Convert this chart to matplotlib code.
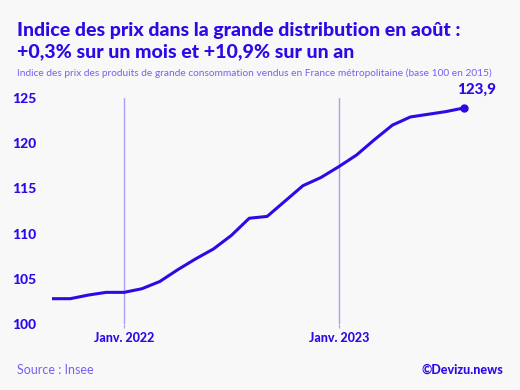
import matplotlib
matplotlib.use("Agg")
import matplotlib.pyplot as plt

plt.rcParams['font.family'] = ['Lato', 'DejaVu Sans']

# Indice des prix, sept. 2021 -> août 2023 (mensuel)
mois = ['sept. 2021', 'oct. 2021', 'nov. 2021', 'déc. 2021',
        'janv. 2022', 'févr. 2022', 'mars 2022', 'avr. 2022', 'mai 2022', 'juin 2022',
        'juil. 2022', 'août 2022', 'sept. 2022', 'oct. 2022', 'nov. 2022', 'déc. 2022',
        'janv. 2023', 'févr. 2023', 'mars 2023', 'avr. 2023', 'mai 2023', 'juin 2023',
        'juil. 2023', 'août 2023']
indice = [102.8, 102.8, 103.2, 103.5,
          103.5, 103.9, 104.7, 106.0, 107.2, 108.3,
          109.8, 111.7, 111.9, 113.6, 115.3, 116.2,
          117.4, 118.7, 120.4, 122.0, 122.9, 123.2,
          123.5, 123.9]
reperes = ['janv. 2022', 'janv. 2023']
reperes_labels = ['Janv. 2022', 'Janv. 2023']
yticks = [100, 105, 110, 115, 120, 125]

bleu = '#2a0be6'
clair = '#7361f3'
ligne_v = '#a99ff5'
fond = '#f8f8f8'
gras = 'black'

fig = plt.figure(figsize=(5.2, 3.9), dpi=100, facecolor=fond)
ax = fig.add_axes([52.4 / 520, 1 - 324 / 390, (464 - 52.4) / 520, (324 - 98) / 390])
ax.set_facecolor(fond)

x = list(range(len(mois)))
ax.plot(x, indice, color=bleu, lw=2.2, solid_joinstyle='round', zorder=3)
ax.plot(x[-1], indice[-1], 'o', color=bleu, ms=5, clip_on=False, zorder=4)
ax.annotate(f"{indice[-1]:.1f}".replace('.', ','), (x[-1], indice[-1]),
            xytext=(9, 8), textcoords='offset points', ha='center', va='bottom',
            color=bleu, fontsize=11, fontweight=gras, annotation_clip=False)

pos = [mois.index(r) for r in reperes]
for p in pos:
    ax.axvline(p, color=ligne_v, lw=1, zorder=1)

ax.set_xlim(0, len(mois) - 1)
ax.set_ylim(100, 125)
ax.set_xticks(pos)
ax.set_xticklabels(reperes_labels)
ax.set_yticks(yticks)
for s in ax.spines.values():
    s.set_visible(False)
ax.tick_params(axis='x', length=3, color=ligne_v, labelsize=9, labelcolor=bleu, pad=3)
ax.tick_params(axis='y', length=0, labelsize=10, labelcolor=bleu, pad=11.5)
for t in ax.get_xticklabels() + ax.get_yticklabels():
    t.set_fontweight(gras)

fig.text(17 / 520, 1 - 22 / 390, "Indice des prix dans la grande distribution en août :\n+0,3% sur un mois et +10,9% sur un an",
         ha='left', va='top', color=bleu, fontsize=14.0, fontweight=gras, linespacing=1.3)
fig.text(17 / 520, 1 - 73 / 390,
         "Indice des prix des produits de grande consommation vendus en France métropolitaine (base 100 en 2015)",
         ha='left', va='center', color=clair, fontsize=7.3)
fig.text(17 / 520, 1 - 370 / 390, "Source : Insee", ha='left', va='center', color=clair, fontsize=9)
fig.text(503 / 520, 1 - 370 / 390, "©Devizu.news", ha='right', va='center', color=bleu,
         fontsize=9, fontweight=gras)

fig.savefig('out.png', dpi=100, facecolor=fond)
